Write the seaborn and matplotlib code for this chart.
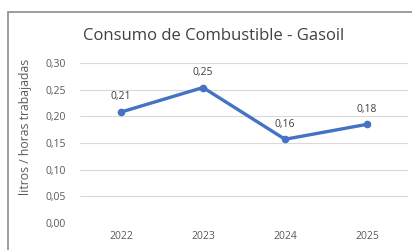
import matplotlib
matplotlib.use("Agg")
import matplotlib.pyplot as plt
import seaborn as sns
import pandas as pd
from matplotlib.patches import Rectangle

# data
years = ["2022", "2023", "2024", "2025"]
consumo = [0.208, 0.254, 0.157, 0.185]
etiquetas = ["0,21", "0,25", "0,16", "0,18"]
yticks = [0.00, 0.05, 0.10, 0.15, 0.20, 0.25, 0.30]

sns.set_style("white")
plt.rcParams["font.family"] = ["Open Sans", "DejaVu Sans"]

df = pd.DataFrame({"year": years, "consumo": consumo})

fig = plt.figure(figsize=(4.12, 2.5), dpi=100)
ax = fig.add_axes([80 / 412, 27 / 250, 328 / 412, 160 / 250])

gray = "#595959"
blue = "#4472C4"

sns.lineplot(data=df, x="year", y="consumo", ax=ax, color=blue, linewidth=2.4,
             marker="o", markersize=5.5, markeredgewidth=0, sort=False)

for i, (v, t) in enumerate(zip(consumo, etiquetas)):
    ax.annotate(t, (i, v), xytext=(0, 7), textcoords="offset points",
                ha="center", va="bottom", fontsize=7.5, color="#404040")

ax.set_xlim(-0.5, 3.5)
ax.set_ylim(0, 0.30)
ax.set_yticks(yticks)
ax.set_yticklabels([f"{v:.2f}".replace(".", ",") for v in yticks])
ax.yaxis.grid(True, color="#D9D9D9", linewidth=0.8)
ax.xaxis.grid(False)
for s in ax.spines.values():
    s.set_visible(False)
ax.tick_params(axis="y", length=0, labelsize=7.5, labelcolor=gray, pad=10)
ax.tick_params(axis="x", length=0, labelsize=7.5, labelcolor=gray, pad=6)
ax.set_xlabel("")
ax.set_ylabel("litros / horas trabajadas", fontsize=8.8, color=gray)
ax.yaxis.set_label_coords(-0.146, 0.6)

fig.text(214 / 412, 1 - 36 / 250, "Consumo de Combustible - Gasoil",
         ha="center", va="center", fontsize=12, color="#404040")

# chart frame (right and bottom edges are cropped off)
fig.patches.append(Rectangle((8 / 412, -0.1), 1.2, 1 - 12 / 250 + 0.1,
                             transform=fig.transFigure, fill=False,
                             edgecolor="#8C8C8C", linewidth=1.2))

fig.savefig("out.png", dpi=100)
